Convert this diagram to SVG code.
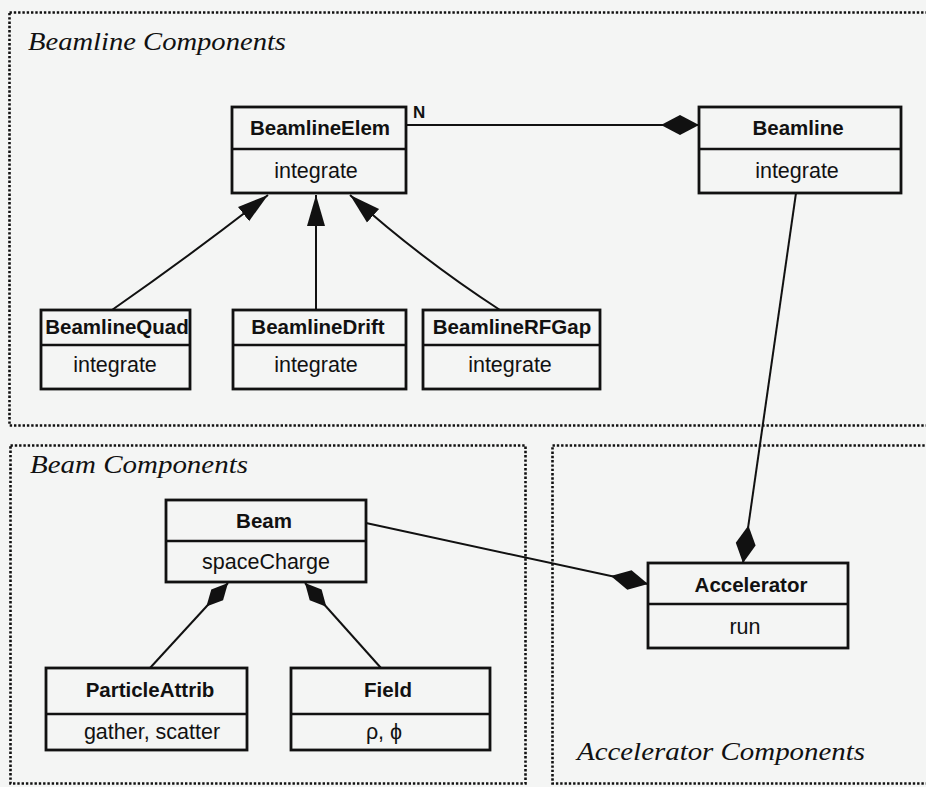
<svg xmlns="http://www.w3.org/2000/svg" width="926" height="787" viewBox="0 0 926 787">
<style>
.bg{fill:#f4f5f4}
.pkg{fill:none;stroke:#111;stroke-width:2.6;stroke-dasharray:2.4 1.9}
.ptitle{font-family:"Liberation Serif",serif;font-style:italic;font-size:25px;fill:#111}
.box{fill:none;stroke:#111;stroke-width:2.8}
.div{stroke:#111;stroke-width:2.4}
.cn{font-family:"Liberation Sans",Arial,sans-serif;font-weight:bold;font-size:20.5px;fill:#111;text-anchor:middle}
.op{font-family:"Liberation Sans",Arial,sans-serif;font-size:21.5px;fill:#111;text-anchor:middle}
.ln{fill:none;stroke:#111;stroke-width:2}
</style>
<defs>
<marker id="dia" markerUnits="userSpaceOnUse" markerWidth="40" markerHeight="22" viewBox="0 -11 40 22" refX="38" refY="0" orient="auto">
<path d="M0,0 L19,-10 L38,0 L19,10 Z" fill="#111"/>
</marker>
<marker id="dia2" markerUnits="userSpaceOnUse" markerWidth="34" markerHeight="20" viewBox="0 -10 34 20" refX="32" refY="0" orient="auto">
<path d="M0,0 L16,-8 L32,0 L16,8 Z" fill="#111"/>
</marker>
<marker id="tri" markerUnits="userSpaceOnUse" markerWidth="34" markerHeight="22" viewBox="0 -11 34 22" refX="31" refY="0" orient="auto">
<path d="M0,-9 L31,0 L0,9 Z" fill="#111"/>
</marker>
</defs>
<rect class="bg" x="0" y="0" width="926" height="787"/>

<g id="pkg-beamline">
<rect class="pkg" x="9.5" y="12.5" width="930" height="413"/>
<text class="ptitle" x="28" y="50" textLength="258" lengthAdjust="spacingAndGlyphs">Beamline Components</text>
</g>
<g id="pkg-beam">
<rect class="pkg" x="10.5" y="445.5" width="515" height="338"/>
<text class="ptitle" x="30" y="473" textLength="218" lengthAdjust="spacingAndGlyphs">Beam Components</text>
</g>
<g id="pkg-accel">
<rect class="pkg" x="552.5" y="445.5" width="380" height="338"/>
<text class="ptitle" x="577" y="760" textLength="288" lengthAdjust="spacingAndGlyphs">Accelerator Components</text>
</g>

<g id="connectors">
<path class="ln" d="M406,125 L699,125" marker-end="url(#dia)"/>
<text x="413" y="118" font-family="Liberation Sans,Arial,sans-serif" font-weight="bold" font-size="17" fill="#111">N</text>
<path class="ln" d="M112,310 Q195,252 268,195" marker-end="url(#tri)"/>
<path class="ln" d="M316,310 L316,195" marker-end="url(#tri)"/>
<path class="ln" d="M500,310 Q420,258 350,195" marker-end="url(#tri)"/>
<path class="ln" d="M796,193 L743,563" marker-end="url(#dia)"/>
<path class="ln" d="M366,523 L648,584" marker-end="url(#dia)"/>
<path class="ln" d="M150,668 L228,583" marker-end="url(#dia2)"/>
<path class="ln" d="M381,668 L305,583" marker-end="url(#dia2)"/>
</g>

<g id="BeamlineElem">
<rect class="box" x="232" y="107" width="174" height="86"/>
<line class="div" x1="232" y1="149" x2="406" y2="149"/>
<text class="cn" x="320" y="135">BeamlineElem</text>
<text class="op" x="316" y="178">integrate</text>
</g>
<g id="Beamline">
<rect class="box" x="699" y="107" width="202" height="86"/>
<line class="div" x1="699" y1="149" x2="901" y2="149"/>
<text class="cn" x="798" y="135">Beamline</text>
<text class="op" x="797" y="178">integrate</text>
</g>
<g id="BeamlineQuad">
<rect class="box" x="41" y="310" width="149" height="79"/>
<line class="div" x1="41" y1="345" x2="190" y2="345"/>
<text class="cn" x="117" y="334">BeamlineQuad</text>
<text class="op" x="115" y="372">integrate</text>
</g>
<g id="BeamlineDrift">
<rect class="box" x="233" y="310" width="173" height="79"/>
<line class="div" x1="233" y1="345" x2="406" y2="345"/>
<text class="cn" x="318" y="334">BeamlineDrift</text>
<text class="op" x="316" y="372">integrate</text>
</g>
<g id="BeamlineRFGap">
<rect class="box" x="423" y="310" width="177" height="79"/>
<line class="div" x1="423" y1="345" x2="600" y2="345"/>
<text class="cn" x="512" y="334">BeamlineRFGap</text>
<text class="op" x="510" y="372">integrate</text>
</g>
<g id="Beam">
<rect class="box" x="166" y="500" width="200" height="82"/>
<line class="div" x1="166" y1="541" x2="366" y2="541"/>
<text class="cn" x="264" y="528">Beam</text>
<text class="op" x="266" y="569">spaceCharge</text>
</g>
<g id="ParticleAttrib">
<rect class="box" x="46" y="668" width="201" height="82"/>
<line class="div" x1="46" y1="714" x2="247" y2="714"/>
<text class="cn" x="150" y="697">ParticleAttrib</text>
<text class="op" x="152" y="739">gather, scatter</text>
</g>
<g id="Field">
<rect class="box" x="291" y="668" width="199" height="82"/>
<line class="div" x1="291" y1="714" x2="490" y2="714"/>
<text class="cn" x="388" y="697">Field</text>
<text class="op" x="384" y="739">ρ, ϕ</text>
</g>
<g id="Accelerator">
<rect class="box" x="648" y="563" width="200" height="85"/>
<line class="div" x1="648" y1="604" x2="848" y2="604"/>
<text class="cn" x="751" y="592">Accelerator</text>
<text class="op" x="745" y="634">run</text>
</g>
</svg>
